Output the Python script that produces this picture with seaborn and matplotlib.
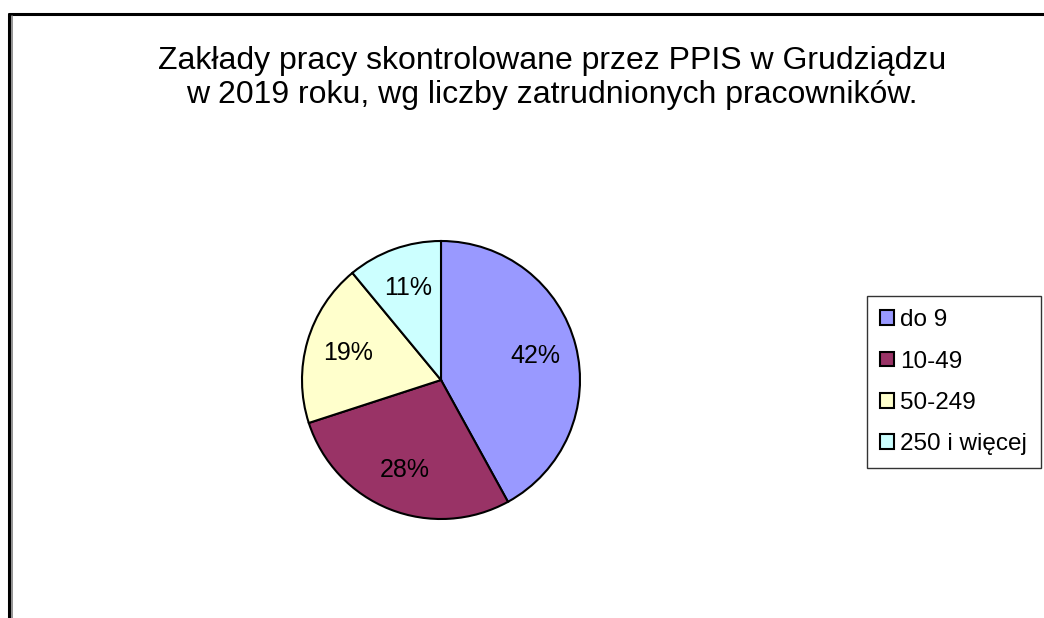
import matplotlib
matplotlib.use("Agg")
import matplotlib.pyplot as plt
import seaborn as sns
from matplotlib.lines import Line2D

categories = ["do 9", "10-49", "50-249", "250 i więcej"]
values = [42, 28, 19, 11]
colors = ["#9999FF", "#993366", "#FFFFCC", "#CCFFFF"]
title = "Zakłady pracy skontrolowane przez PPIS w Grudziądzu\nw 2019 roku, wg liczby zatrudnionych pracowników."

sns.set_theme(style="white")
plt.rcParams["font.family"] = ["Liberation Sans", "DejaVu Sans"]
plt.rcParams["text.color"] = "black"

W, H = 1044, 618
fig = plt.figure(figsize=(W / 100, H / 100), dpi=100)
fig.patch.set_facecolor("white")

# pie axes: center (441, 380) px, radius 139 px
cx, cy, r = 441, 380, 139
pad = 1.03
size = 2 * r * pad
ax = fig.add_axes([(cx - r * pad) / W, (H - cy - r * pad) / H, size / W, size / H])
wedges, texts, autotexts = ax.pie(
    values, colors=colors, startangle=90, counterclock=False,
    autopct="%1.0f%%", pctdistance=0.70,
    wedgeprops=dict(edgecolor="black", linewidth=1.5),
    textprops=dict(fontsize=18, color="black"),
)
ax.set_xlim(-pad, pad)
ax.set_ylim(-pad, pad)
ax.set_aspect("equal")
ax.axis("off")

fig.text(552 / W, 1 - 78 / H, title, ha="center", va="center", fontsize=23,
         linespacing=1.2, color="black")

leg = fig.legend(wedges, categories, loc="upper left",
                 bbox_to_anchor=(867 / W, 1 - 296 / H), bbox_transform=fig.transFigure,
                 frameon=True, fancybox=False, shadow=False, fontsize=17.5,
                 handlelength=0.57, handleheight=0.57, handletextpad=0.25,
                 labelspacing=0.79, borderpad=0.55, borderaxespad=0,
                 labelcolor="black")
leg.get_frame().set_edgecolor("black")
leg.get_frame().set_linewidth(1.0)
for h in leg.legend_handles:
    h.set_edgecolor("black")
    h.set_linewidth(1.5)

# outer frame lines
def px(x, y):
    return x / W, 1 - y / H

x0, y0 = px(9, 14)
x1, y1 = px(W, 14)
fig.add_artist(Line2D([x0, x1], [y0, y1], color="black", linewidth=2.2, transform=fig.transFigure))
x2, y2 = px(9, H)
fig.add_artist(Line2D([x0, x2], [y0 + 0.5 / H, y2], color="black", linewidth=2.2, transform=fig.transFigure))
xg, yg = px(11.8, 15.5)
xg2, yg2 = px(11.8, H)
fig.add_artist(Line2D([xg, xg2], [yg, yg2], color="#808080", linewidth=1.2, transform=fig.transFigure))

fig.savefig("out.png", dpi=100, facecolor="white")
